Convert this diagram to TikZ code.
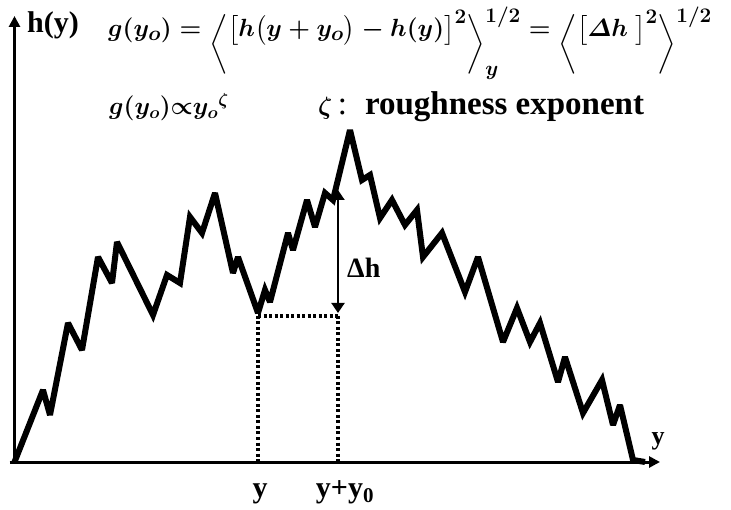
\documentclass[tikz,border=0pt]{standalone}
\usepackage{amsmath}
\usepackage{fontspec}
\setmainfont{Liberation Serif}
\usetikzlibrary{arrows.meta}
\newcommand{\avgopen}{\mathopen{\raisebox{-14pt}{$\biggl\langle$}}}
\newcommand{\avgclose}{\mathclose{\raisebox{-14pt}{$\biggr\rangle$}}}

\begin{document}
\begin{tikzpicture}[
  x=1pt,
  y=-1pt,
  line join=round,
  axisline/.style={draw=black,line width=3.5pt,-{Triangle[length=11pt,width=11pt]}},
  profile/.style={draw=black,line width=6pt,line join=miter,miter limit=3},
  guide/.style={draw=black,line width=3.5pt,dash pattern=on 3pt off 2.5pt},
  deltaarrow/.style={draw=black,line width=2pt,{Triangle[length=10pt,width=13pt]}-{Triangle[length=10pt,width=13pt]}},
  lbl/.style={inner sep=0pt,anchor=base,font=\fontsize{30}{34}\selectfont\bfseries},
  formula/.style={inner sep=0pt,anchor=base west,font=\fontsize{28.5}{32}\selectfont\boldmath}
]
  \useasboundingbox (0,0) rectangle (731,510);

  % Axes.
  \coordinate (O) at (14.5,462);
  \coordinate (htop) at (14.5,16);
  \coordinate (yend) at (660,462);
  \draw[axisline] ([yshift=-1.5pt]O) -- (htop);
  \draw[axisline,line width=3pt] ([xshift=-5pt]O) -- (yend);
  \node[lbl,anchor=base west] (hlabel) at (27,33) {h(y)};
  \node[lbl,font=\fontsize{26}{30}\selectfont\bfseries] (ylabel) at (658,444) {y};

  % Rough interface profile.
  \draw[profile] (O) -- (43,390) -- (50,415) -- (68,323) -- (82,350) -- (98,257)
    -- (112,283) -- (117,242) -- (153,315) -- (167,275) -- (180,283) -- (190,217)
    -- (202,233) -- (215,193) -- (233,273) -- (238,257) -- (258,313) -- (265,290)
    -- (270,302) -- (288,233) -- (293,250) -- (307,200) -- (315,227) -- (325,193)
    -- (333,200) -- (350,130) -- (362,180) -- (370,175) -- (380,218) -- (392,200)
    -- (405,225) -- (417,210) -- (423,257) -- (442,233) -- (465,292) -- (478,257)
    -- (503,342) -- (517,308) -- (530,342) -- (540,323) -- (558,382) -- (565,357)
    -- (583,413) -- (602,380) -- (613,425) -- (620,405) -- (633,460) -- (645,462);

  % Height difference over the distance y_o.
  \coordinate (pa) at (258,316);
  \coordinate (pb) at (338,316);
  \coordinate (pa0) at (258,462);
  \coordinate (pb0) at (338,462);
  \coordinate (ptop) at (338,190);
  \coordinate (pbot) at (338,313);
  \draw[guide] (pa) -- (pb);
  \draw[guide] (pa) -- (pa0);
  \draw[guide] (pb) -- (pb0);
  \draw[deltaarrow] (ptop) -- (pbot);
  \node[lbl,anchor=base west,font=\fontsize{28}{32}\selectfont\bfseries] (dh) at (347,278) {Δh};
  \node[lbl] (ya) at (260,497) {y};
  \node[lbl] (yb) at (345,497) {y+y$_{\mathbf{0}}$};

  % Definitions.
  \node[formula] (gdef) at (108,37) {$g(y_o)=\avgopen\bigl[h\bigl(y+y_o\bigr)-h(y)\bigr]^2\avgclose_y^{1/2}=\avgopen\bigl[\varDelta h\ \bigr]^2\avgclose^{1/2}$};
  \node[formula,font=\fontsize{25}{30}\selectfont\boldmath] (gscale) at (109,115) {$g(y_o){\propto}{y_o}^{\zeta}$};
  \node[formula,font=\fontsize{33}{36}\selectfont\boldmath] (zeta) at (318,115) {$\zeta$\,:\hspace{18pt}\textbf{roughness exponent}};
\end{tikzpicture}
\end{document}
